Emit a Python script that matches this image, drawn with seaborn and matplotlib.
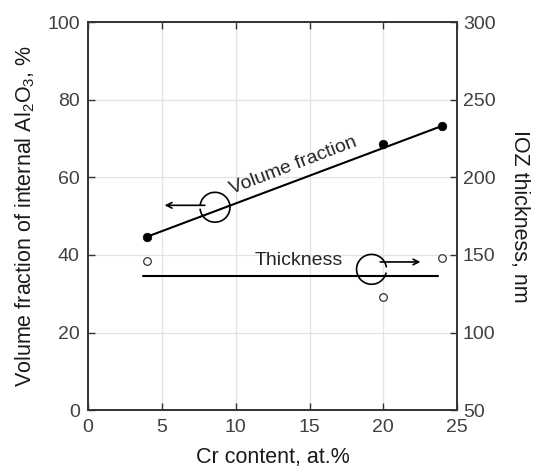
import numpy as np
import pandas as pd
import seaborn as sns
import matplotlib.pyplot as plt
from matplotlib.patches import Arc

# data
cr = [4, 20, 24]
vol_frac = [44.7, 68.6, 73.3]          # %, left axis
thickness = [145.8, 122.6, 148.3]      # nm, right axis
fit_x = [4, 24]
fit_y = [44.7, 73.3]
mean_x = [3.75, 23.7]
mean_thick = [136.3, 136.3]

sns.set_style("white")
plt.rcParams['font.family'] = ['Liberation Sans', 'DejaVu Sans']
plt.rcParams['mathtext.fontset'] = 'custom'
plt.rcParams['mathtext.rm'] = 'Liberation Sans'
plt.rcParams['mathtext.it'] = 'Liberation Sans'

fig = plt.figure(figsize=(5.43, 4.72), dpi=100)
ax = fig.add_axes([0.162, 0.131, 0.680, 0.822])
ax2 = ax.twinx()

df = pd.DataFrame({"cr": cr, "vf": vol_frac, "th": thickness})

sns.lineplot(x=fit_x, y=fit_y, ax=ax, color="black", lw=1.5)
sns.scatterplot(data=df, x="cr", y="vf", ax=ax, color="black", s=38,
                edgecolor="black", zorder=5)
sns.lineplot(x=mean_x, y=mean_thick, ax=ax2, color="black", lw=1.5)
ax2.scatter(cr, thickness, s=30, facecolor="white", edgecolor="#333333",
            linewidth=0.9, zorder=5)

ax.set_xlim(0, 25)
ax.set_ylim(0, 100)
ax2.set_ylim(50, 300)
ax.set_xticks(range(0, 26, 5))
ax.set_yticks(range(0, 101, 20))
ax2.set_yticks(range(50, 301, 50))

ax.grid(True, color="#e3e3e3", lw=0.9)
ax.set_axisbelow(True)

ax.set_xlabel("Cr content, at.%", fontsize=15.5, color="#1a1a1a", labelpad=8)
ax.set_ylabel("Volume fraction of internal Al$_2$O$_3$, %", fontsize=15.5,
              color="#1a1a1a", labelpad=7)
ax2.set_ylabel("IOZ thickness, nm", fontsize=15.5, rotation=270,
               labelpad=25, color="#1a1a1a")

for a in (ax, ax2):
    a.tick_params(direction="in", length=5, width=1, labelsize=14,
                  colors="#333333", labelcolor="#404040", pad=6)
    for s in a.spines.values():
        s.set_color("#333333")
        s.set_linewidth(1.2)
ax.tick_params(top=True, left=True, bottom=True, right=False)
ax2.tick_params(right=True, pad=4)

# annotations: volume fraction -> left axis
ax.text(13.9, 62.9, "Volume fraction", rotation=21, ha="center",
        va="center", fontsize=14)
ax.add_patch(Arc((8.6, 52.3), 2.03, 7.7, theta1=-160, theta2=150,
                 color="black", lw=1.2))
ax.annotate("", xy=(5.0, 52.8), xytext=(8.1, 52.8),
            arrowprops=dict(arrowstyle="->", color="black", lw=1.2))

# thickness -> right axis
ax.text(14.3, 38.5, "Thickness", ha="center", va="center", fontsize=14)
ax.add_patch(Arc((19.2, 36.3), 2.03, 7.7, theta1=25, theta2=320,
                 color="black", lw=1.2))
ax.annotate("", xy=(22.7, 38.2), xytext=(19.6, 38.2),
            arrowprops=dict(arrowstyle="->", color="black", lw=1.2))

fig.savefig("out.png", dpi=100)
